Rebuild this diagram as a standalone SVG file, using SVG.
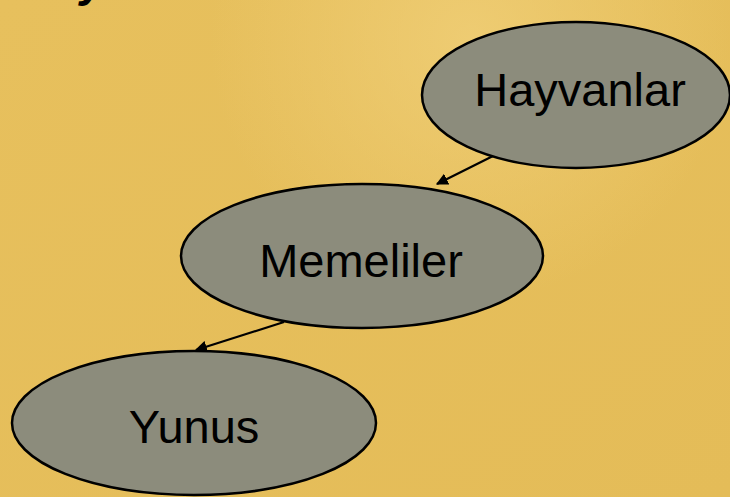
<svg xmlns="http://www.w3.org/2000/svg" width="730" height="497" viewBox="0 0 730 497">
<defs>
<linearGradient id="bg" x1="0" y1="0" x2="1" y2="1">
<stop offset="0" stop-color="#e7c05d"/>
<stop offset="1" stop-color="#e4bc58"/>
</linearGradient>
<radialGradient id="hl" cx="470" cy="40" r="260" gradientUnits="userSpaceOnUse">
<stop offset="0" stop-color="#f0cf78" stop-opacity="0.8"/>
<stop offset="1" stop-color="#f0cf78" stop-opacity="0"/>
</radialGradient>
<marker id="ah" viewBox="0 0 10 10" refX="9" refY="5" markerWidth="5.5" markerHeight="5.5" orient="auto" markerUnits="strokeWidth">
<path d="M0,0 L10,5 L0,10 z" fill="#000"/>
</marker>
<style>
.node ellipse{fill:#8c8c7c;stroke:#000;stroke-width:2.5}
.node text{font-family:"Liberation Sans",Arial,sans-serif;font-size:47px;fill:#000;text-anchor:middle}
.edge{stroke:#000;stroke-width:2.2;fill:none;marker-end:url(#ah)}
</style>
</defs>
<rect width="730" height="497" fill="url(#bg)"/>
<rect width="730" height="497" fill="url(#hl)"/>
<text x="80" y="-4" font-family="Liberation Sans,Arial,sans-serif" font-size="46" font-weight="bold" font-style="italic" fill="#000">y</text>
<g id="connectors">
<line class="edge" x1="495" y1="155" x2="437" y2="184"/>
<line class="edge" x1="284" y1="322" x2="196" y2="350"/>
</g>
<g id="hayvanlar" class="node">
<ellipse cx="576" cy="95" rx="154" ry="73"/>
<text x="580" y="106">Hayvanlar</text>
</g>
<g id="memeliler" class="node">
<ellipse cx="362" cy="256" rx="181" ry="72"/>
<text x="361" y="277">Memeliler</text>
</g>
<g id="yunus" class="node">
<ellipse cx="194" cy="423" rx="182" ry="72"/>
<text x="194" y="443">Yunus</text>
</g>
</svg>
